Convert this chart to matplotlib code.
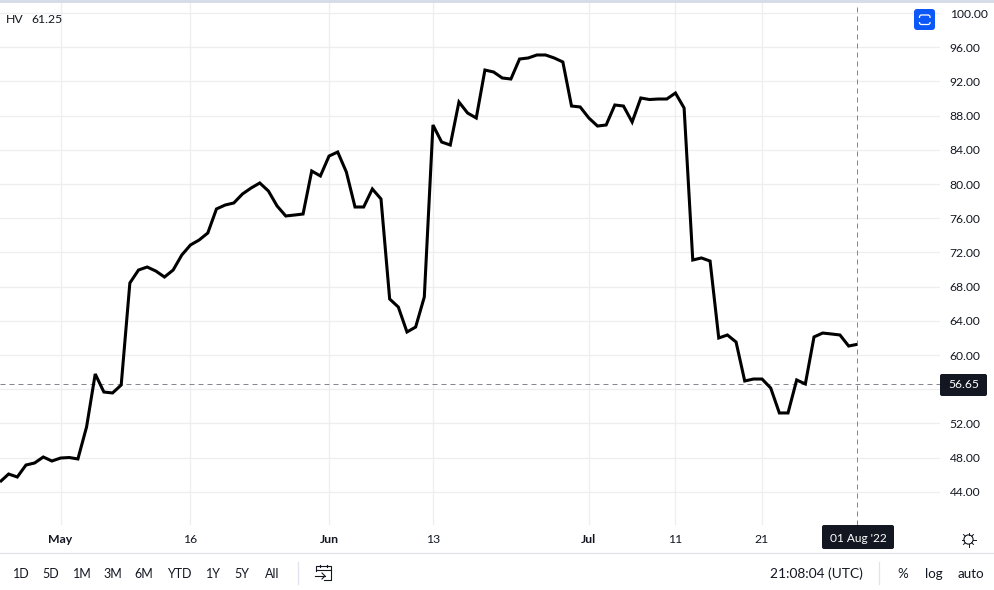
import numpy as np
import pandas as pd
import matplotlib
matplotlib.use("Agg")
import matplotlib.pyplot as plt
import matplotlib.dates as mdates
from matplotlib.patches import FancyBboxPatch, Rectangle, Circle

plt.rcParams["font.family"] = ["Lato", "DejaVu Sans"]

# daily HV readings, last one is 1 Aug 2022
hv_values = [
    45.15, 46.08, 45.73, 47.13, 47.37, 48.07, 47.60, 47.95, 48.01, 47.84,
    51.58, 57.78, 55.67, 55.56, 56.49, 68.42, 69.94, 70.29, 69.82, 69.12,
    69.94, 71.70, 72.87, 73.45, 74.27, 77.08, 77.54, 77.78, 78.83, 79.53,
    80.12, 79.18, 77.43, 76.26, 76.37, 76.49, 81.52, 80.94, 83.27, 83.74,
    81.40, 77.31, 77.31, 79.42, 78.25, 66.55, 65.61, 62.69, 63.27, 66.78,
    86.90, 84.91, 84.56, 89.59, 88.30, 87.72, 93.33, 93.10, 92.40, 92.28,
    94.62, 94.74, 95.09, 95.09, 94.74, 94.27, 89.12, 89.01, 87.72, 86.78,
    86.90, 89.24, 89.12, 87.25, 90.06, 89.88, 89.94, 89.94, 90.64, 88.89,
    71.11, 71.35, 70.99, 61.99, 62.34, 61.52, 56.96, 57.19, 57.19, 56.14,
    53.22, 53.22, 57.08, 56.61, 62.11, 62.57, 62.46, 62.34, 61.05, 61.25,
]
hv_dates = pd.date_range(end="2022-08-01", periods=len(hv_values), freq="D")

y_ticks = [44, 48, 52, 60, 64, 68, 72, 76, 80, 84, 88, 92, 96, 100]
grid_levels = [44, 48, 52, 56, 60, 64, 68, 72, 76, 80, 84, 88, 92, 96, 100]
x_tick_dates = ["2022-05-01", "2022-05-16", "2022-06-01", "2022-06-13",
                "2022-07-01", "2022-07-11", "2022-07-21"]
x_tick_labels = ["May", "16", "Jun", "13", "Jul", "11", "21"]
month_labels = ["May", "Jun", "Jul"]
cross_date = "2022-08-01"
cross_value = 56.65
range_buttons = ["1D", "5D", "1M", "3M", "6M", "YTD", "1Y", "5Y", "All"]
range_button_x = [21, 51, 82, 113, 144, 179, 213, 242, 272]
scale_buttons = ["%", "log", "auto"]
scale_button_x = [903, 934, 971]

W, H = 995, 590
TEXT = "#131722"
GRID = "#eeeef1"
CROSS = "#85868f"
BLUE = "#0b57f7"

fig = plt.figure(figsize=(W / 100, H / 100), dpi=100, facecolor="white")

# chart pane: 3..525 px vertically, 0..940 px horizontally
ax = fig.add_axes([0, 1 - 525 / H, 940 / W, 522 / H])
px_per_day = 8.66
x_end = mdates.date2num(pd.Timestamp(cross_date))
ax.set_xlim(x_end - 857.3 / px_per_day, x_end + (940 - 857.3) / px_per_day)
px_per_unit = 8.55
ax.set_ylim(100 - (525 - 13) / px_per_unit, 100 + (13 - 3) / px_per_unit)

for s in ax.spines.values():
    s.set_visible(False)

for level in grid_levels:
    ax.axhline(level, color=GRID, lw=0.9, zorder=1)
for d in x_tick_dates:
    ax.axvline(mdates.date2num(pd.Timestamp(d)), color=GRID, lw=0.9, zorder=1)

ax.plot(hv_dates, hv_values, color="black", lw=2.2, solid_joinstyle="miter",
        solid_capstyle="butt", zorder=3)

ax.axhline(cross_value, color=CROSS, lw=0.72, dashes=(5, 4), zorder=2)
ax.axvline(x_end, color=CROSS, lw=0.72, dashes=(5, 4), zorder=2)

ax.yaxis.tick_right()
ax.set_yticks(y_ticks)
ax.set_yticklabels([f"{v:.2f}" for v in y_ticks], fontsize=8.7, color=TEXT)
ax.tick_params(axis="y", length=0, pad=7)
ax.set_xticks([mdates.date2num(pd.Timestamp(d)) for d in x_tick_dates])
ax.set_xticklabels(x_tick_labels, fontsize=8.8, color=TEXT)
ax.tick_params(axis="x", length=0, pad=6.8)
for lab in ax.get_xticklabels():
    if lab.get_text() in month_labels:
        lab.set_fontweight("bold")

# pixel overlay for the toolbar and widgets
ov = fig.add_axes([0, 0, 1, 1], zorder=5)
ov.set_xlim(0, W)
ov.set_ylim(H, 0)
ov.axis("off")
ov.patch.set_alpha(0)

ov.add_patch(Rectangle((0, 0), W, 3, color="#d6dce8", lw=0))
ov.plot([0, W], [553, 553], color="#e0e3eb", lw=0.9)
ov.plot([297.5, 297.5], [562, 584], color="#e0e3eb", lw=0.9)
ov.plot([879, 879], [562, 584], color="#e0e3eb", lw=0.9)

ov.text(6, 19.5, "HV", fontsize=8.8, color=TEXT, ha="left", va="center")
ov.text(31, 19.5, "61.25", fontsize=8.8, color=TEXT, ha="left", va="center")

# crosshair labels
ov.add_patch(FancyBboxPatch((940, 374), 47, 22, boxstyle="round,pad=0,rounding_size=2",
                            fc=TEXT, ec="none"))
ov.text(963.5, 385, f"{cross_value:.2f}", fontsize=8.7, color="white",
        ha="center", va="center")
ov.add_patch(FancyBboxPatch((822, 525), 72, 24, boxstyle="round,pad=0,rounding_size=2",
                            fc=TEXT, ec="none"))
ov.text(858, 538, "01 Aug '22", fontsize=8.6, color="white", ha="center", va="center")

# blue auto-fit button
ov.add_patch(FancyBboxPatch((914, 9), 21, 21, boxstyle="round,pad=0,rounding_size=3",
                            fc=BLUE, ec="none"))
ov.add_patch(FancyBboxPatch((919.5, 15), 10.5, 9.5, boxstyle="round,pad=0,rounding_size=2",
                            fc="none", ec="white", lw=0.9))
ov.add_patch(Rectangle((917, 17.8), 15, 3.8, fc=BLUE, ec="none", zorder=3))

# settings sun icon
ov.add_patch(Circle((968.5, 539.5), 4.6, fc="none", ec=TEXT, lw=0.8))
for a in np.arange(0, 360, 45):
    ca, sa = np.cos(np.radians(a)), np.sin(np.radians(a))
    ov.plot([968.5 + 4.6 * ca, 968.5 + 7 * ca], [539.5 + 4.6 * sa, 539.5 + 7 * sa],
            color=TEXT, lw=0.7)

# range buttons
for label, x in zip(range_buttons, range_button_x):
    ov.text(x, 573.5, label, fontsize=9, color=TEXT, ha="center", va="center")
for label, x in zip(scale_buttons, scale_button_x):
    ov.text(x, 573.5, label, fontsize=9.6, color=TEXT, ha="center", va="center")
ov.text(863, 573.5, "21:08:04 (UTC)", fontsize=9.9, color=TEXT, ha="right", va="center")

# go-to-date calendar icon
ov.plot([316, 316, 331, 331, 324], [571, 566, 566, 580, 580], color=TEXT, lw=0.8)
ov.plot([316, 331], [570, 570], color=TEXT, lw=0.8)
ov.plot([320, 320], [565, 567], color=TEXT, lw=0.8)
ov.plot([327, 327], [565, 567], color=TEXT, lw=0.8)
ov.plot([315, 325], [576, 576], color=TEXT, lw=0.8)
ov.plot([322, 325, 322], [573, 576, 579], color=TEXT, lw=0.8)

fig.savefig("out.png", dpi=100)
